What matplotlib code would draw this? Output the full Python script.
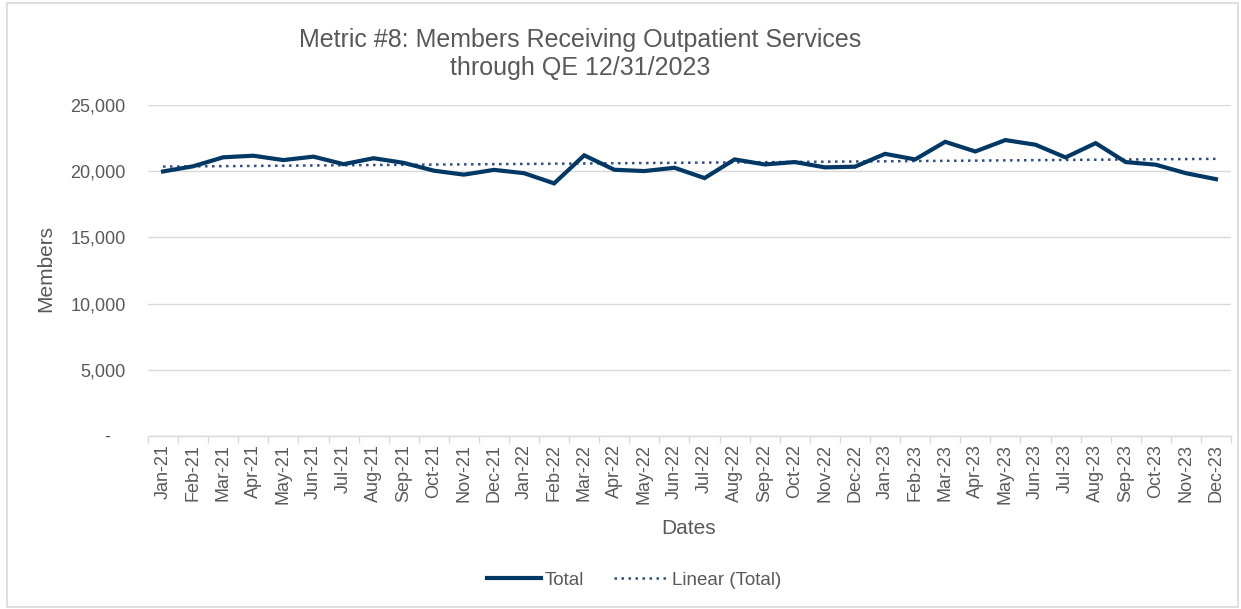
import matplotlib
matplotlib.use("Agg")
import matplotlib.pyplot as plt
import numpy as np
from matplotlib.patches import Rectangle

plt.rcParams['font.family'] = ['Liberation Sans', 'DejaVu Sans']

months = ["Jan-21", "Feb-21", "Mar-21", "Apr-21", "May-21", "Jun-21", "Jul-21", "Aug-21",
          "Sep-21", "Oct-21", "Nov-21", "Dec-21", "Jan-22", "Feb-22", "Mar-22", "Apr-22",
          "May-22", "Jun-22", "Jul-22", "Aug-22", "Sep-22", "Oct-22", "Nov-22", "Dec-22",
          "Jan-23", "Feb-23", "Mar-23", "Apr-23", "May-23", "Jun-23", "Jul-23", "Aug-23",
          "Sep-23", "Oct-23", "Nov-23", "Dec-23"]
total = [19980, 20370, 21050, 21170, 20840, 21100, 20530, 20980,
         20630, 20040, 19740, 20100, 19850, 19080, 21200, 20110,
         20010, 20260, 19480, 20890, 20510, 20690, 20290, 20340,
         21310, 20890, 22220, 21490, 22350, 22000, 21040, 22120,
         20690, 20490, 19850, 19400]
y_ticks = [0, 5000, 10000, 15000, 20000, 25000]

W, H = 1241, 609
fig = plt.figure(figsize=(W / 100, H / 100), dpi=100)
fig.patch.set_facecolor('white')
fig.add_artist(Rectangle((7 / W, 2 / H), (1238 - 7) / W, (606 - 2) / H,
                         transform=fig.transFigure, fill=False,
                         edgecolor='#d9d9d9', linewidth=1.2))

ax = fig.add_axes([148 / W, 1 - 436 / H, (1231 - 148) / W, (436 - 105) / H])
x = np.arange(len(months))
ax.plot(x, total, color='#003865', linewidth=3.0, solid_joinstyle='miter',
        label='Total', zorder=3)
coef = np.polyfit(x, total, 1)
ax.plot(x, np.polyval(coef, x), color='#2f4b8c', linewidth=1.8,
        linestyle=(0, (1, 1.8)), label='Linear (Total)', zorder=2)

ax.set_xlim(-0.5, len(months) - 0.5)
ax.set_ylim(0, 25000)
ax.set_yticks(y_ticks)
ax.set_yticklabels(['-   ' if v == 0 else f'{v:,}' for v in y_ticks])
ax.set_xticks(x)
ax.set_xticklabels(months, rotation=90)
ax.set_xticks(np.arange(-0.5, len(months), 1), minor=True)
ax.tick_params(axis='x', which='major', length=0, pad=6, labelsize=13, colors='#595959')
ax.tick_params(axis='x', which='minor', length=5, color='#d9d9d9', width=1)
ax.tick_params(axis='y', length=0, pad=16, labelsize=13, colors='#595959')
ax.grid(axis='y', color='#d9d9d9', linewidth=1)
ax.set_axisbelow(True)
for s in ['top', 'right', 'left']:
    ax.spines[s].set_visible(False)
ax.spines['bottom'].set_color('#d9d9d9')
ax.spines['bottom'].set_linewidth(1)

fig.text(580 / W, 1 - 54 / H, 'Metric #8: Members Receiving Outpatient Services\nthrough QE 12/31/2023',
         ha='center', va='center', fontsize=18, color='#595959', linespacing=1.25)
fig.text(46 / W, 1 - 269 / H, 'Members', rotation=90, ha='center', va='center',
         fontsize=15, color='#595959')
fig.text(689 / W, 1 - 528 / H, 'Dates', ha='center', va='center',
         fontsize=15, color='#595959')

leg = fig.legend(loc='center', bbox_to_anchor=(634 / W, 1 - 580 / H), ncol=2,
                 frameon=False, fontsize=13.5, handlelength=2.9, columnspacing=1.6,
                 handletextpad=0.2)
for t in leg.get_texts():
    t.set_color('#595959')

fig.savefig('out.png', dpi=100, facecolor='white')
